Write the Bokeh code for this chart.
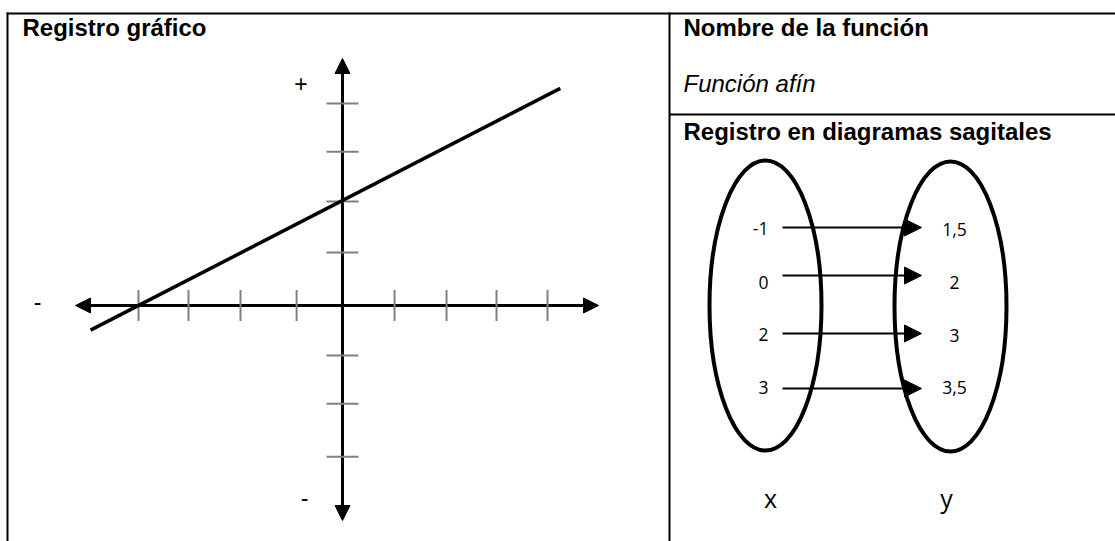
import numpy as np
from bokeh.plotting import figure
from bokeh.models import Range1d, Arrow, NormalHead, ColumnDataSource
from bokeh.core.properties import value
from bokeh.embed import file_html
from bokeh.resources import INLINE

# ---------------- data ----------------
# Cartesian graph (units of the drawn axes)
line_x = [-4.94, 4.27]          # ends of the drawn straight line
line_y = [-0.47, 4.135]         # f(x) = 0.5x + 2 at those ends
x_ticks = [-4.0, -3.02, -2.0, -0.9, 1.02, 2.04, 3.02, 4.02]
y_ticks = [3.85, 2.93, 1.98, 1.01, -0.95, -1.87, -2.88]
x_axis_extent = [-5.235, 5.02]
y_axis_extent = [-4.095, 4.705]
sign_labels = ["+", "-", "-"]

# Sagittal diagram
domain_values = ["-1", "0", "2", "3"]
image_values = ["1,5", "2", "3", "3,5"]
set_labels = ["x", "y"]

# Texts
titles = ["Registro gráfico", "Nombre de la función", "Registro en diagramas sagitales"]
function_name = "Función afín"

# ---------------- layout (page pixels) ----------------
W, H = 1115, 541
PX0, PY0 = 0, 0
GX0, GY0, UX, UY = 342, 305, 51.0, 52.5   # graph origin and unit size
TY = -8                                   # text baseline adjustment

p = figure(width=W, height=H, output_backend="svg", toolbar_location=None,
           x_range=Range1d(PX0, PX0 + W), y_range=Range1d(PY0 + H, PY0),
           x_axis_type=None, y_axis_type=None, min_border=0,
           outline_line_color=None, background_fill_color="white",
           border_fill_color="white")
p.extra_x_ranges = {"gx": Range1d((PX0 - GX0) / UX, (PX0 + W - GX0) / UX)}
p.extra_y_ranges = {"gy": Range1d((GY0 - (PY0 + H)) / UY, (GY0 - PY0) / UY)}

# table borders
p.segment(x0=[6, 7, 669, 669], y0=[13, 12, 12, 114],
          x1=[PX0 + W, 7, 669, PX0 + W], y1=[13, PY0 + H, PY0 + H, 114],
          line_color="black", line_width=2)

# headings
p.text(x=[22, 683, 683], y=[35 + TY, 35 + TY, 139 + TY], text=titles,
       text_font=value("Liberation Sans"), text_font_style="bold",
       text_font_size=value("24px"), text_baseline="alphabetic",
       text_align="left", text_color="black")
p.text(x=[683], y=[91 + TY], text=[function_name],
       text_font=value("Liberation Sans"), text_font_style="italic",
       text_font_size=value("24px"), text_baseline="alphabetic",
       text_align="left", text_color="black")

# ---------- Cartesian graph ----------
head = dict(size=15, fill_color="black", line_color="black", line_width=1)
p.add_layout(Arrow(start=NormalHead(**head), end=NormalHead(**head),
                   x_start=x_axis_extent[0], y_start=0,
                   x_end=x_axis_extent[1], y_end=0,
                   line_width=3, line_color="black",
                   x_range_name="gx", y_range_name="gy"))
p.add_layout(Arrow(start=NormalHead(**head), end=NormalHead(**head),
                   x_start=0, y_start=y_axis_extent[0],
                   x_end=0, y_end=y_axis_extent[1],
                   line_width=3, line_color="black",
                   x_range_name="gx", y_range_name="gy"))

p.scatter(x=x_ticks, y=[0] * len(x_ticks), marker="dash", size=31,
          angle=np.pi / 2, line_color="#808080", line_width=2,
          x_range_name="gx", y_range_name="gy", level="overlay")
p.scatter(x=[0] * len(y_ticks), y=y_ticks, marker="dash", size=32,
          line_color="#808080", line_width=2,
          x_range_name="gx", y_range_name="gy", level="overlay")

p.line(line_x, line_y, line_color="black", line_width=3.5,
       x_range_name="gx", y_range_name="gy", level="overlay")

p.text(x=[300.5, 37, 304], y=[90.5 + TY, 309 + TY, 505 + TY], text=sign_labels,
       text_font=value("Liberation Sans"), text_font_size=value("23px"),
       text_baseline="alphabetic", text_align="center", text_color="black")

# ---------- Sagittal diagram ----------
p.ellipse(x=[765, 950], y=[305, 306], width=112, height=290,
          fill_color=None, line_color="black", line_width=4)

arrow_rows = [227, 275, 333, 388]
arrow_src = ColumnDataSource(dict(x0=[782] * 4, x1=[921] * 4, y=arrow_rows))
p.add_layout(Arrow(end=NormalHead(size=17, fill_color="black", line_color="black", line_width=1),
                   x_start="x0", y_start="y", x_end="x1", y_end="y",
                   source=arrow_src, line_width=2, line_color="black"))

p.text(x=[768] * 4, y=[236 + TY, 290 + TY, 342 + TY, 395 + TY], text=domain_values,
       text_font=value("Open Sans"), text_font_size=value("17.5px"),
       text_baseline="alphabetic", text_align="right", text_color="black")
p.text(x=[954] * 4, y=[237 + TY, 290 + TY, 342.5 + TY, 395 + TY], text=image_values,
       text_font=value("Open Sans"), text_font_size=value("17.5px"),
       text_baseline="alphabetic", text_align="center", text_color="black")
p.text(x=[770, 946], y=[505 + TY, 505 + TY], text=set_labels,
       text_font=value("Open Sans"), text_font_size=value("25px"),
       text_baseline="alphabetic", text_align="center", text_color="black")

open("out.html", "w").write(file_html(p, INLINE))
